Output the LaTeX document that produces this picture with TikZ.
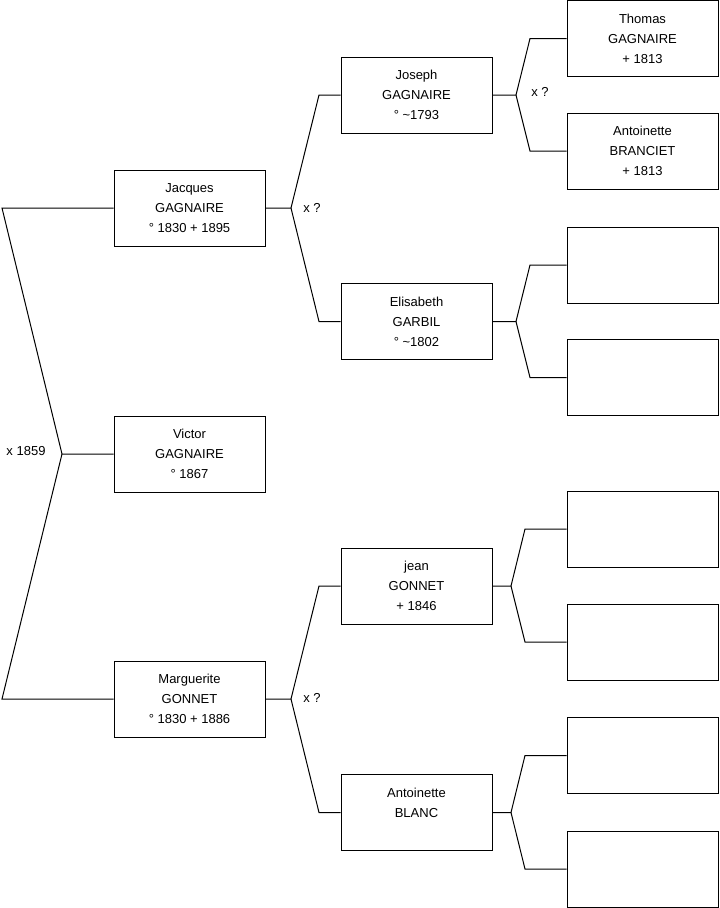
\documentclass[tikz,border=0pt]{standalone}
\usepackage{fontspec}
\setmainfont{Liberation Sans}
\usetikzlibrary{positioning}

\begin{document}
\begin{tikzpicture}[x=0.75pt,y=-0.75pt,
box/.style={draw,line width=0.75pt,align=center,minimum width=113.25pt,minimum height=57pt,inner sep=0pt,font=\fontsize{9.75}{15}\selectfont},
lnk/.style={line width=0.75pt},
lbl/.style={font=\fontsize{9.75}{15}\selectfont}]
\useasboundingbox (0,0) rectangle (719,908);
% generation 1
\node[box] (jacques) at (189.5,208) {Jacques\\GAGNAIRE\\° 1830 + 1895};
\node[box] (victor) at (189.5,454) {Victor\\GAGNAIRE\\° 1867};
\node[box] (marguerite) at (189.5,699) {Marguerite\\GONNET\\° 1830 + 1886};
% generation 2
\node[box] (joseph) at (416.5,95) {Joseph\\GAGNAIRE\\° \textasciitilde1793};
\node[box] (elisabeth) at (416.5,321.5) {Elisabeth\\GARBIL\\° \textasciitilde1802};
\node[box] (jean) at (416.5,586) {jean\\GONNET\\+ 1846};
\node[box] (blanc) at (416.5,812.5) {Antoinette\\BLANC\\\mbox{}};
% generation 3
\node[box] (thomas) at (642.5,38.5) {Thomas\\GAGNAIRE\\+ 1813};
\node[box] (branciet) at (642.5,151) {Antoinette\\BRANCIET\\+ 1813};
\node[box] (e1) at (642.5,265) {};
\node[box] (e2) at (642.5,377.5) {};
\node[box] (e3) at (642.5,529) {};
\node[box] (e4) at (642.5,642) {};
\node[box] (e5) at (642.5,755.5) {};
\node[box] (e6) at (642.5,869) {};
% forks
\coordinate (l1) at (2,208);
\coordinate (v0) at (62,454);
\coordinate (l2) at (2,699);
\coordinate (v1) at (291,208);
\coordinate (b1) at (319,95);
\coordinate (b2) at (319,321.5);
\coordinate (v2) at (291,699);
\coordinate (b3) at (319,586);
\coordinate (b4) at (319,812.5);
\coordinate (v3) at (516,95);
\coordinate (c1) at (530,38.5);
\coordinate (c2) at (530,151);
\coordinate (v4) at (516,321.5);
\coordinate (c3) at (530,265);
\coordinate (c4) at (530,377.5);
\coordinate (v5) at (511,586);
\coordinate (c5) at (525,529);
\coordinate (c6) at (525,642);
\coordinate (v6) at (511,812.5);
\coordinate (c7) at (525,755.5);
\coordinate (c8) at (525,869);
\draw[lnk] (jacques.west) -- (l1) -- (v0) -- (victor.west);
\draw[lnk] (v0) -- (l2) -- (marguerite.west);
\draw[lnk] (jacques.east) -- (v1) -- (b1) -- (joseph.west);
\draw[lnk] (v1) -- (b2) -- (elisabeth.west);
\draw[lnk] (marguerite.east) -- (v2) -- (b3) -- (jean.west);
\draw[lnk] (v2) -- (b4) -- (blanc.west);
\draw[lnk] (joseph.east) -- (v3) -- (c1) -- (thomas.west);
\draw[lnk] (v3) -- (c2) -- (branciet.west);
\draw[lnk] (elisabeth.east) -- (v4) -- (c3) -- (e1.west);
\draw[lnk] (v4) -- (c4) -- (e2.west);
\draw[lnk] (jean.east) -- (v5) -- (c5) -- (e3.west);
\draw[lnk] (v5) -- (c6) -- (e4.west);
\draw[lnk] (blanc.east) -- (v6) -- (c7) -- (e5.west);
\draw[lnk] (v6) -- (c8) -- (e6.west);
% marriages
\node[lbl] (m0) at (26,451) {x 1859};
\node[lbl] (m1) at (312,208) {x ?};
\node[lbl] (m2) at (312,698) {x ?};
\node[lbl] (m3) at (540,92) {x ?};
\end{tikzpicture}
\end{document}
